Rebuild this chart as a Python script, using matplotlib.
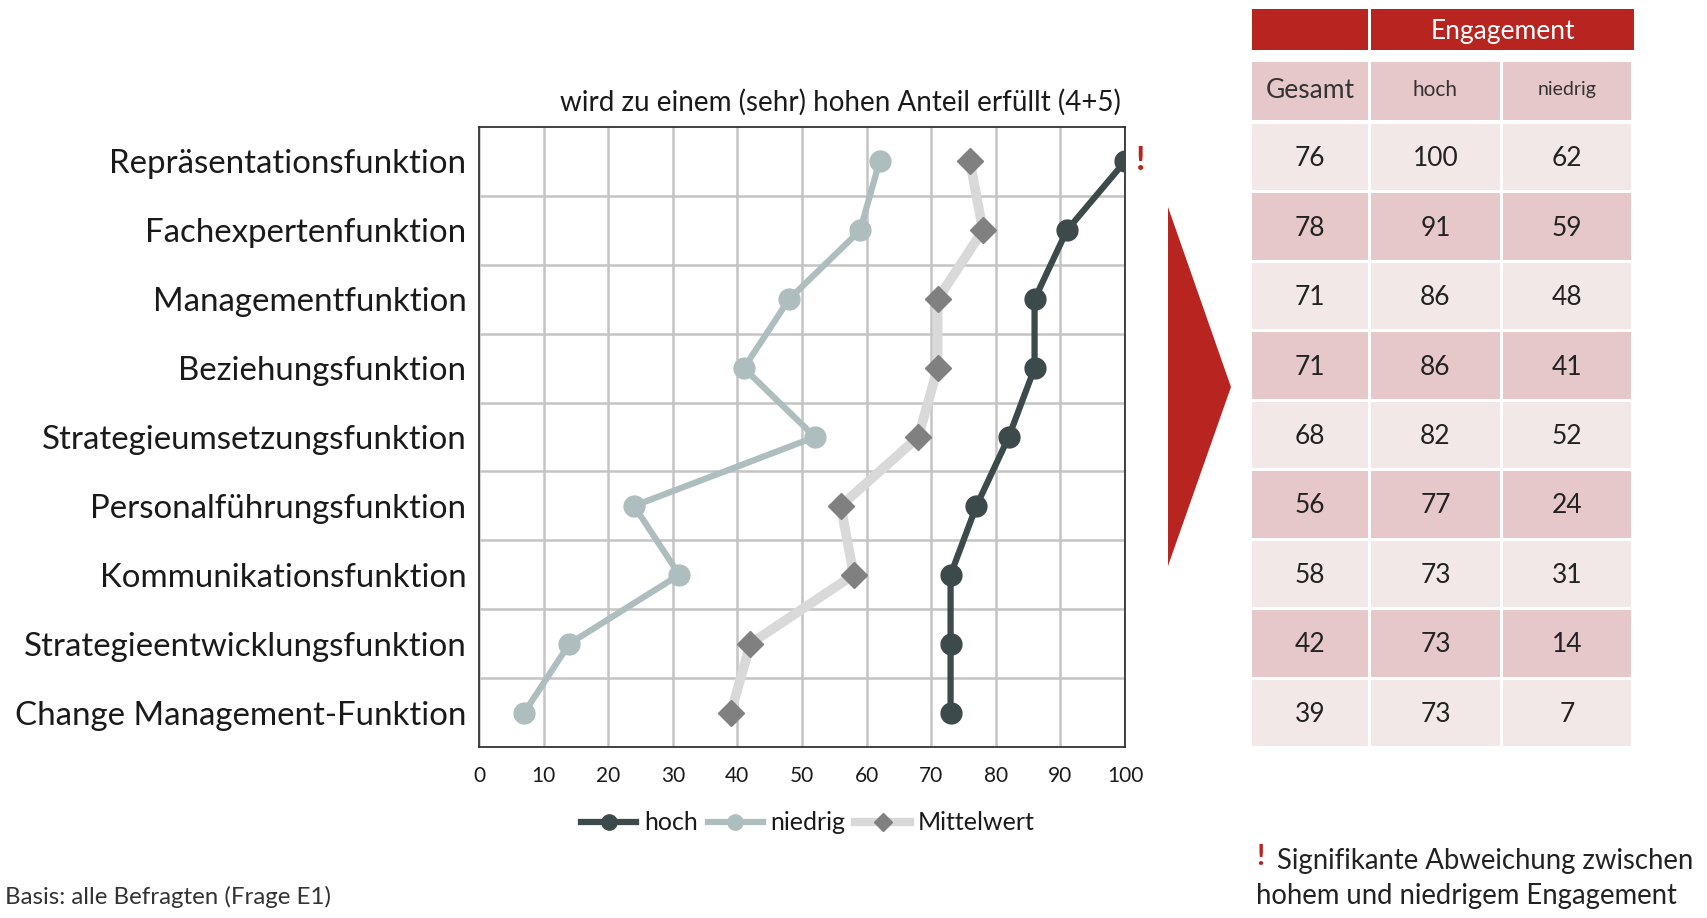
import matplotlib
matplotlib.use("Agg")
import matplotlib.pyplot as plt
from matplotlib.patches import Rectangle, Polygon
from matplotlib.lines import Line2D

plt.rcParams['font.family'] = ['Lato', 'DejaVu Sans']

# Data
funktionen = [
    "Repräsentationsfunktion",
    "Fachexpertenfunktion",
    "Managementfunktion",
    "Beziehungsfunktion",
    "Strategieumsetzungsfunktion",
    "Personalführungsfunktion",
    "Kommunikationsfunktion",
    "Strategieentwicklungsfunktion",
    "Change Management-Funktion",
]
hoch = [100, 91, 86, 86, 82, 77, 73, 73, 73]
niedrig = [62, 59, 48, 41, 52, 24, 31, 14, 7]
gesamt = [76, 78, 71, 71, 68, 56, 58, 42, 39]
signifikant = [True, False, False, False, False, False, False, False, False]
x_ticks = list(range(0, 101, 10))

# Colours
c_hoch = "#3c4a4b"
c_niedrig = "#aebdbd"
c_mittel_line = "#d9d9d9"
c_mittel_mark = "#808080"
c_red = "#b8241f"
c_pink = "#e7c8ca"
c_light = "#f3e8e8"
c_text = "#1a1a1a"

W, H = 1708, 918
fig = plt.figure(figsize=(W / 100, H / 100), dpi=100)

# main chart
ax = fig.add_axes([479 / W, 1 - 747 / H, (1125 - 479) / W, (747 - 127) / H])
ypos = list(range(len(funktionen)))
ax.plot(gesamt, ypos, color=c_mittel_line, lw=7, marker="D", ms=13,
        mfc=c_mittel_mark, mec=c_mittel_mark, zorder=3, solid_capstyle="round")
ax.plot(niedrig, ypos, color=c_niedrig, lw=4.5, marker="o", ms=15,
        mfc=c_niedrig, mec=c_niedrig, zorder=4)
ax.plot(hoch, ypos, color=c_hoch, lw=4.5, marker="o", ms=15,
        mfc=c_hoch, mec=c_hoch, zorder=5)
for i, s in enumerate(signifikant):
    if s:
        ax.annotate("!", (hoch[i], i), xytext=(8, 1), textcoords="offset points",
                    color=c_red, fontsize=24, fontweight="bold", va="center",
                    ha="left", annotation_clip=False)

ax.set_xlim(0, 100)
ax.set_ylim(len(funktionen) - 0.5, -0.5)
ax.set_xticks(x_ticks)
ax.set_xticklabels([str(t) for t in x_ticks], fontsize=15, color=c_text)
ax.set_yticks([y + 0.5 for y in ypos[:-1]], minor=True)
ax.set_yticks(ypos)
ax.set_yticklabels(funktionen, fontsize=23.8, color=c_text)
ax.tick_params(axis="both", which="both", length=0)
ax.tick_params(axis="y", pad=9)
ax.tick_params(axis="x", pad=14)
ax.grid(True, axis="x", color="#c4c4c4", lw=1.8)
ax.grid(True, axis="y", which="minor", color="#c4c4c4", lw=1.8)
ax.grid(False, axis="y", which="major")
ax.set_axisbelow(True)
for sp in ax.spines.values():
    sp.set_color("#333333")
    sp.set_linewidth(1.3)
ax.set_title("wird zu einem (sehr) hohen Anteil erfüllt (4+5)", fontsize=20,
             pad=12, loc="center", x=0.56, color=c_text)

handles = [
    Line2D([], [], color=c_hoch, lw=4.5, marker="o", ms=11, mfc=c_hoch, mec=c_hoch),
    Line2D([], [], color=c_niedrig, lw=4.5, marker="o", ms=11, mfc=c_niedrig, mec=c_niedrig),
    Line2D([], [], color=c_mittel_line, lw=6, marker="D", ms=9,
           mfc=c_mittel_mark, mec=c_mittel_mark),
]
leg = fig.legend(handles, ["hoch", "niedrig", "Mittelwert"], loc="center",
                 bbox_to_anchor=(808 / W, 1 - 823 / H), ncol=3, frameon=False,
                 fontsize=18, handlelength=2.2, handletextpad=0.3, columnspacing=0.4)
for t in leg.get_texts():
    t.set_color(c_text)

# overlay in pixel coordinates for table, arrow and notes
ov = fig.add_axes([0, 0, 1, 1], zorder=-1)
ov.set_xlim(0, W)
ov.set_ylim(H, 0)
ov.axis("off")

ov.add_patch(Polygon([(1168, 207), (1168, 566), (1231, 387)], closed=True,
                     color=c_red, lw=0))

col_x = [1252, 1371, 1503, 1634]
gap = 3
# header
ov.add_patch(Rectangle((col_x[0], 9), col_x[1] - col_x[0] - gap, 41, color=c_red, lw=0))
ov.add_patch(Rectangle((col_x[1], 9), col_x[3] - col_x[1], 41, color=c_red, lw=0))
ov.text((col_x[1] + col_x[3]) / 2, 31, "Engagement", color="white", fontsize=19,
        ha="center", va="center")
# sub header
sub_labels = ["Gesamt", "hoch", "niedrig"]
sub_sizes = [19, 15, 14]
for j in range(3):
    ov.add_patch(Rectangle((col_x[j], 62), col_x[j + 1] - col_x[j] - gap, 58,
                           color=c_pink, lw=0))
    ov.text((col_x[j] + col_x[j + 1] - gap) / 2, 90, sub_labels[j], fontsize=sub_sizes[j],
            color="#333333", ha="center", va="center")
# body rows
row_top, row_h = 124, (749 - 124) / len(funktionen)
for i in range(len(funktionen)):
    fill = c_light if i % 2 == 0 else c_pink
    vals = [gesamt[i], hoch[i], niedrig[i]]
    for j in range(3):
        y0 = row_top + i * row_h
        ov.add_patch(Rectangle((col_x[j], y0), col_x[j + 1] - col_x[j] - gap, row_h - gap,
                               color=fill, lw=0))
        ov.text((col_x[j] + col_x[j + 1] - gap) / 2, y0 + row_h / 2, str(vals[j]),
                fontsize=19, color="#222222", ha="center", va="center")

ov.text(5, 897, "Basis: alle Befragten (Frage E1)", fontsize=17.3, color="#333333",
        ha="left", va="center")
ov.text(1256, 857, "!", fontsize=21, color=c_red, fontweight="bold",
        ha="left", va="center")
ov.text(1277, 861, "Signifikante Abweichung zwischen", fontsize=19.8, color="#222222",
        ha="left", va="center")
ov.text(1256, 896, "hohem und niedrigem Engagement", fontsize=19.8, color="#222222",
        ha="left", va="center")

fig.savefig("out.png", dpi=100)
